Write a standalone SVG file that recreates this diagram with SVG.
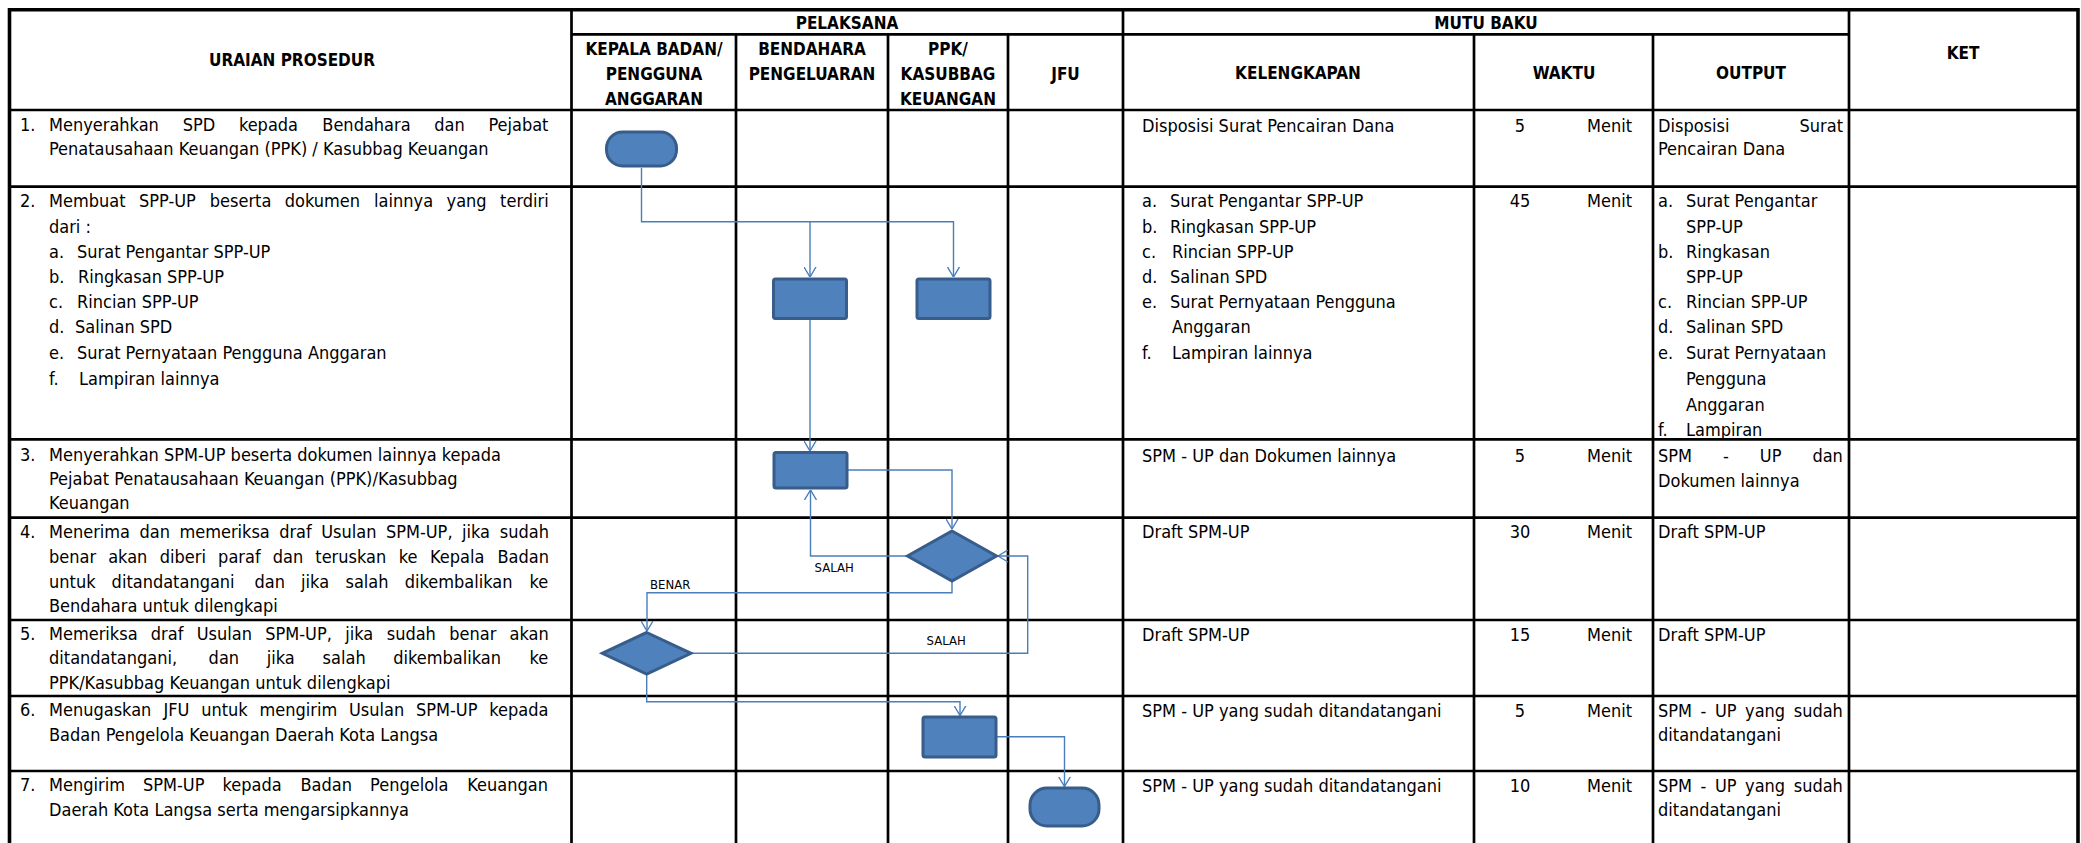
<svg xmlns="http://www.w3.org/2000/svg" width="2081" height="843" viewBox="0 0 2081 843">
<style>
.t{font-family:"DejaVu Sans Condensed","DejaVu Sans","Liberation Sans",sans-serif;font-stretch:condensed;font-size:18px;fill:#000}
.h{font-family:"DejaVu Sans Condensed","DejaVu Sans","Liberation Sans",sans-serif;font-stretch:condensed;font-size:17px;font-weight:bold;fill:#000;text-anchor:middle}
.m{text-anchor:middle}
.e{text-anchor:end}
.lbl{font-family:"DejaVu Sans Condensed","DejaVu Sans","Liberation Sans",sans-serif;font-stretch:condensed;font-size:13px;fill:#000}
.g{stroke:#000;stroke-width:2.7;fill:none}
.o{stroke:#000;stroke-width:3.6;fill:none}
.shape{fill:#4F81BD;stroke:#385D8A;stroke-width:3}
.c{fill:none;stroke:#4A7EBB;stroke-width:1.4;marker-end:url(#arr)}
.cn{fill:none;stroke:#4A7EBB;stroke-width:1.4}
</style>
<defs>
<marker id="arr" markerUnits="userSpaceOnUse" viewBox="0 0 10 13" refX="10" refY="6.5" markerWidth="10" markerHeight="13" orient="auto">
<path d="M0,0.5 L10,6.5 L0,12.5" fill="none" stroke="#4A7EBB" stroke-width="1.4"/>
</marker>
</defs>
<rect width="2081" height="843" fill="#fff"/>
<g id="grid">
<path class="g" d="M571.5,34.3H1849M9.5,110H2078M9.5,186.7H2078M9.5,439.3H2078M9.5,517.7H2078M9.5,620H2078M9.5,696H2078M9.5,771H2078"/>
<path class="g" d="M571.5,9.7V843M1123,9.7V843M1849,9.7V843M736,34.3V843M888,34.3V843M1008,34.3V843M1474,34.3V843M1653,34.3V843"/>
<path class="o" d="M9.5,843V9.7H2078V843"/>
</g>
<g id="headers">
<text class="h" x="292" y="66">URAIAN PROSEDUR</text>
<text class="h" x="847" y="29">PELAKSANA</text>
<text class="h" x="1486" y="29">MUTU BAKU</text>
<text class="h" x="1963" y="58.7">KET</text>
<text class="h" x="654" y="55.3">KEPALA BADAN/</text>
<text class="h" x="654" y="80">PENGGUNA</text>
<text class="h" x="654" y="105">ANGGARAN</text>
<text class="h" x="812" y="55.3">BENDAHARA</text>
<text class="h" x="812" y="80">PENGELUARAN</text>
<text class="h" x="948" y="55.3">PPK/</text>
<text class="h" x="948" y="80">KASUBBAG</text>
<text class="h" x="948" y="105">KEUANGAN</text>
<text class="h" x="1065.5" y="80">JFU</text>
<text class="h" x="1298" y="79.3">KELENGKAPAN</text>
<text class="h" x="1564" y="79.3">WAKTU</text>
<text class="h" x="1751" y="79.3">OUTPUT</text>
</g>
<g id="uraian">
<text class="t" y="130.5"><tspan x="20">1.</tspan><tspan x="49">Menyerahkan</tspan><tspan x="182.8">SPD</tspan><tspan x="238.9">kepada</tspan><tspan x="322.3">Bendahara</tspan><tspan x="434.3">dan</tspan><tspan x="488.4">Pejabat</tspan></text>
<text class="t" x="49" y="154.8">Penatausahaan Keuangan (PPK) / Kasubbag Keuangan</text>
<text class="t" y="207.2"><tspan x="20">2.</tspan><tspan x="49">Membuat</tspan><tspan x="139">SPP-UP</tspan><tspan x="209.8">beserta</tspan><tspan x="284.8">dokumen</tspan><tspan x="374.1">lainnya</tspan><tspan x="446.6">yang</tspan><tspan x="500.1">terdiri</tspan></text>
<text class="t" x="49" y="232.5">dari :</text>
<text class="t" y="257.5"><tspan x="49">a.</tspan><tspan x="77">Surat Pengantar SPP-UP</tspan></text>
<text class="t" y="283.2"><tspan x="49">b.</tspan><tspan x="78">Ringkasan SPP-UP</tspan></text>
<text class="t" y="308.2"><tspan x="49">c.</tspan><tspan x="77">Rincian SPP-UP</tspan></text>
<text class="t" y="333.2"><tspan x="49">d.</tspan><tspan x="75">Salinan SPD</tspan></text>
<text class="t" y="358.8"><tspan x="49">e.</tspan><tspan x="77">Surat Pernyataan Pengguna Anggaran</tspan></text>
<text class="t" y="384.8"><tspan x="49">f.</tspan><tspan x="79">Lampiran lainnya</tspan></text>
<text class="t" y="460.5"><tspan x="20">3.</tspan><tspan x="49">Menyerahkan SPM-UP beserta dokumen lainnya kepada</tspan></text>
<text class="t" x="49" y="484.8">Pejabat Penatausahaan Keuangan (PPK)/Kasubbag</text>
<text class="t" x="49" y="509.2">Keuangan</text>
<text class="t" y="538.2"><tspan x="20">4.</tspan><tspan x="49">Menerima</tspan><tspan x="139.5">dan</tspan><tspan x="179.4">memeriksa</tspan><tspan x="279.2">draf</tspan><tspan x="321.2">Usulan</tspan><tspan x="385.9">SPM-UP,</tspan><tspan x="462">jika</tspan><tspan x="499.8">sudah</tspan></text>
<text class="t" y="563.2"><tspan x="49">benar</tspan><tspan x="108.2">akan</tspan><tspan x="159.8">diberi</tspan><tspan x="218.1">paraf</tspan><tspan x="272.7">dan</tspan><tspan x="315.3">teruskan</tspan><tspan x="398.7">ke</tspan><tspan x="430.1">Kepala</tspan><tspan x="497.4">Badan</tspan></text>
<text class="t" y="588.2"><tspan x="49">untuk</tspan><tspan x="111.6">ditandatangani</tspan><tspan x="254.5">dan</tspan><tspan x="301.1">jika</tspan><tspan x="345.5">salah</tspan><tspan x="404.7">dikembalikan</tspan><tspan x="529.5">ke</tspan></text>
<text class="t" x="49" y="612.2">Bendahara untuk dilengkapi</text>
<text class="t" y="639.8"><tspan x="20">5.</tspan><tspan x="49">Memeriksa</tspan><tspan x="150.8">draf</tspan><tspan x="196.7">Usulan</tspan><tspan x="265.2">SPM-UP,</tspan><tspan x="345.2">jika</tspan><tspan x="386.7">sudah</tspan><tspan x="449.2">benar</tspan><tspan x="509.5">akan</tspan></text>
<text class="t" y="663.8"><tspan x="49">ditandatangani,</tspan><tspan x="208.6">dan</tspan><tspan x="266.7">jika</tspan><tspan x="322.6">salah</tspan><tspan x="393.3">dikembalikan</tspan><tspan x="529.6">ke</tspan></text>
<text class="t" x="49" y="688.8">PPK/Kasubbag Keuangan untuk dilengkapi</text>
<text class="t" y="715.8"><tspan x="20">6.</tspan><tspan x="49">Menugaskan</tspan><tspan x="163.5">JFU</tspan><tspan x="201.2">untuk</tspan><tspan x="259.5">mengirim</tspan><tspan x="349">Usulan</tspan><tspan x="416">SPM-UP</tspan><tspan x="489.3">kepada</tspan></text>
<text class="t" x="49" y="740.5">Badan Pengelola Keuangan Daerah Kota Langsa</text>
<text class="t" y="790.5"><tspan x="20">7.</tspan><tspan x="49">Mengirim</tspan><tspan x="143">SPM-UP</tspan><tspan x="222.6">kepada</tspan><tspan x="300.5">Badan</tspan><tspan x="370.1">Pengelola</tspan><tspan x="467.3">Keuangan</tspan></text>
<text class="t" x="49" y="815.5">Daerah Kota Langsa serta mengarsipkannya</text>
</g>
<g id="kelengkapan">
<text class="t" x="1142" y="131.5">Disposisi Surat Pencairan Dana</text>
<text class="t" y="207.2"><tspan x="1142">a.</tspan><tspan x="1170">Surat Pengantar SPP-UP</tspan></text>
<text class="t" y="232.5"><tspan x="1142">b.</tspan><tspan x="1170">Ringkasan SPP-UP</tspan></text>
<text class="t" y="257.5"><tspan x="1142">c.</tspan><tspan x="1172">Rincian SPP-UP</tspan></text>
<text class="t" y="283.2"><tspan x="1142">d.</tspan><tspan x="1170">Salinan SPD</tspan></text>
<text class="t" y="308.2"><tspan x="1142">e.</tspan><tspan x="1170">Surat Pernyataan Pengguna</tspan></text>
<text class="t" x="1172" y="333.2">Anggaran</text>
<text class="t" y="358.8"><tspan x="1142">f.</tspan><tspan x="1172">Lampiran lainnya</tspan></text>
<text class="t" x="1142" y="461.5">SPM - UP dan Dokumen lainnya</text>
<text class="t" x="1142" y="538.2">Draft SPM-UP</text>
<text class="t" x="1142" y="640.5">Draft SPM-UP</text>
<text class="t" x="1142" y="716.5">SPM - UP yang sudah ditandatangani</text>
<text class="t" x="1142" y="791.5">SPM - UP yang sudah ditandatangani</text>
</g>
<g id="waktu">
<text class="t m" x="1520" y="131.5">5</text><text class="t e" x="1632" y="131.5">Menit</text>
<text class="t m" x="1520" y="207.2">45</text><text class="t e" x="1632" y="207.2">Menit</text>
<text class="t m" x="1520" y="461.5">5</text><text class="t e" x="1632" y="461.5">Menit</text>
<text class="t m" x="1520" y="538.2">30</text><text class="t e" x="1632" y="538.2">Menit</text>
<text class="t m" x="1520" y="640.5">15</text><text class="t e" x="1632" y="640.5">Menit</text>
<text class="t m" x="1520" y="716.5">5</text><text class="t e" x="1632" y="716.5">Menit</text>
<text class="t m" x="1520" y="791.5">10</text><text class="t e" x="1632" y="791.5">Menit</text>
</g>
<g id="output">
<text class="t" x="1658" y="131.5">Disposisi</text><text class="t e" x="1843" y="131.5">Surat</text>
<text class="t" x="1658" y="154.8">Pencairan Dana</text>
<text class="t" y="207.2"><tspan x="1658">a.</tspan><tspan x="1686">Surat Pengantar</tspan></text>
<text class="t" x="1686" y="232.5">SPP-UP</text>
<text class="t" y="257.5"><tspan x="1658">b.</tspan><tspan x="1686">Ringkasan</tspan></text>
<text class="t" x="1686" y="283.2">SPP-UP</text>
<text class="t" y="308.2"><tspan x="1658">c.</tspan><tspan x="1686">Rincian SPP-UP</tspan></text>
<text class="t" y="333.2"><tspan x="1658">d.</tspan><tspan x="1686">Salinan SPD</tspan></text>
<text class="t" y="358.8"><tspan x="1658">e.</tspan><tspan x="1686">Surat Pernyataan</tspan></text>
<text class="t" x="1686" y="384.8">Pengguna</text>
<text class="t" x="1686" y="410.5">Anggaran</text>
<text class="t" y="435.8"><tspan x="1658">f.</tspan><tspan x="1686">Lampiran</tspan></text>
<text class="t" y="461.5"><tspan x="1658">SPM</tspan><tspan x="1723">-</tspan><tspan x="1759.8">UP</tspan><tspan x="1812.4">dan</tspan></text>
<text class="t" x="1658" y="486.5">Dokumen lainnya</text>
<text class="t" x="1658" y="538.2">Draft SPM-UP</text>
<text class="t" x="1658" y="640.5">Draft SPM-UP</text>
<text class="t" y="716.5"><tspan x="1658">SPM</tspan><tspan x="1700.6">-</tspan><tspan x="1714.9">UP</tspan><tspan x="1745.1">yang</tspan><tspan x="1793.7">sudah</tspan></text>
<text class="t" x="1658" y="740.8">ditandatangani</text>
<text class="t" y="791.5"><tspan x="1658">SPM</tspan><tspan x="1700.6">-</tspan><tspan x="1714.9">UP</tspan><tspan x="1745.1">yang</tspan><tspan x="1793.7">sudah</tspan></text>
<text class="t" x="1658" y="815.8">ditandatangani</text>
</g>
<g id="connectors">
<path class="c" d="M641.5,168V221.7H953.5V277"/>
<path class="c" d="M810,221.7V277"/>
<path class="c" d="M810,320V451"/>
<path class="c" d="M848,470H952V529"/>
<path class="c" d="M906,556H810.5V490"/>
<path class="c" d="M952,582V592.7H647V631"/>
<path class="c" d="M692,653.3H1027.7V556H998"/>
<path class="c" d="M646.7,675V701.7H960V715.5"/>
<path class="c" d="M997,736.7H1064.5V786.5"/>
<text class="lbl" x="814.5" y="571.5">SALAH</text>
<text class="lbl" x="650" y="588.5">BENAR</text>
<text class="lbl" x="926.6" y="644.5">SALAH</text>
</g>
<g id="n1"><rect class="shape" x="606.5" y="132" width="70" height="34" rx="16" ry="16"/></g>
<g id="n2"><rect class="shape" x="773.5" y="279" width="73" height="39.5" rx="2"/></g>
<g id="n3"><rect class="shape" x="917" y="279" width="73" height="39.5" rx="2"/></g>
<g id="n4"><rect class="shape" x="774" y="452.5" width="73" height="35.5" rx="2"/></g>
<g id="n5"><polygon class="shape" points="952,531 996.5,556 952,581 907.5,556"/></g>
<g id="n6"><polygon class="shape" points="646.7,632.5 691,653.3 646.7,674.2 602.3,653.3"/></g>
<g id="n7"><rect class="shape" x="923" y="717" width="73" height="40" rx="2"/></g>
<g id="n8"><rect class="shape" x="1030" y="788" width="69" height="38" rx="17" ry="17"/></g>
</svg>
